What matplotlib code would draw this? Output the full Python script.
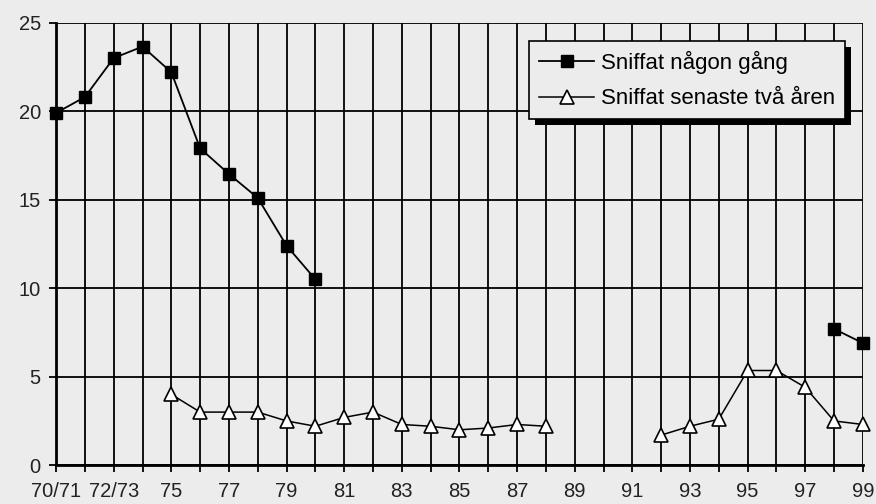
import numpy as np
import matplotlib
matplotlib.use('Agg')
import matplotlib.pyplot as plt
from matplotlib.patches import Rectangle

# --- DATA ---
years = ['70/71', '71/72', '72/73', '73/74'] + [str(y) for y in range(75, 100)]
tick_labels = [y if i % 2 == 0 else '' for i, y in enumerate(years)]

# Sniffat någon gång (nan = no survey value)
ever = [19.9, 20.8, 23.0, 23.65, 22.2, 17.9, 16.45, 15.1, 12.4, 10.5,
        np.nan, np.nan, np.nan, np.nan, np.nan, np.nan, np.nan, np.nan,
        np.nan, np.nan, np.nan, np.nan, np.nan, np.nan, np.nan, np.nan,
        np.nan, 7.7, 6.9]

# Sniffat senaste två åren
last2 = [np.nan, np.nan, np.nan, np.nan, 4.0, 3.0, 3.0, 3.0, 2.5, 2.2,
         2.7, 3.0, 2.3, 2.2, 2.0, 2.1, 2.3, 2.2, np.nan, np.nan,
         np.nan, 1.7, 2.2, 2.6, 5.35, 5.35, 4.4, 2.5, 2.3]

bg = '#ececec'
plt.rcParams['font.family'] = ['Liberation Sans', 'DejaVu Sans']

fig = plt.figure(figsize=(8.76, 5.04), dpi=100, facecolor=bg)
ax = fig.add_axes([0.064, 0.077, 0.921, 0.878], facecolor=bg)

x = np.arange(len(years))

ax.plot(x, ever, '-', color='black', lw=1.3, marker='s', ms=8.5,
        mfc='black', mec='black', label='Sniffat någon gång', zorder=4, clip_on=False)
ax.plot(x, last2, '-', color='black', lw=1.1, marker='^', ms=10,
        mfc='white', mec='black', mew=1.2, label='Sniffat senaste två åren',
        zorder=4, clip_on=False)

ax.set_xlim(0, len(years) - 1)
ax.set_ylim(0, 25)
ax.set_yticks([0, 5, 10, 15, 20, 25])
ax.set_xticks(x)
ax.set_xticklabels(tick_labels)

ax.grid(True, color='black', lw=1.3)
ax.set_axisbelow(True)
for s in ['left', 'bottom']:
    ax.spines[s].set_linewidth(2)
for s in ['top', 'right']:
    ax.spines[s].set_visible(False)

ax.tick_params(axis='both', labelsize=14.5, colors='black', labelcolor='#222222',
               width=1.3, length=5)
ax.tick_params(axis='x', pad=7)
ax.tick_params(axis='y', pad=6)

leg = ax.legend(loc='upper right', bbox_to_anchor=(0.978, 0.959), borderaxespad=0,
                fontsize=16, handlelength=2.5, handletextpad=0.3,
                frameon=True, fancybox=False, framealpha=1,
                edgecolor='black', facecolor=bg, borderpad=0.45, labelspacing=0.65)
leg.get_frame().set_linewidth(1.2)
leg.set_zorder(10)

# black drop shadow under the legend
fig.canvas.draw()
bb = leg.get_window_extent().transformed(fig.transFigure.inverted())
dx, dy = 6 / 876, -6 / 504
shadow = Rectangle((bb.x0 + dx, bb.y0 + dy), bb.width, bb.height,
                   transform=fig.transFigure, facecolor='black',
                   edgecolor='none', zorder=9)
fig.patches.append(shadow)
leg.remove()
fig.legends.append(leg)
leg.set_figure(fig)

fig.savefig('out.png', dpi=100, facecolor=bg)
